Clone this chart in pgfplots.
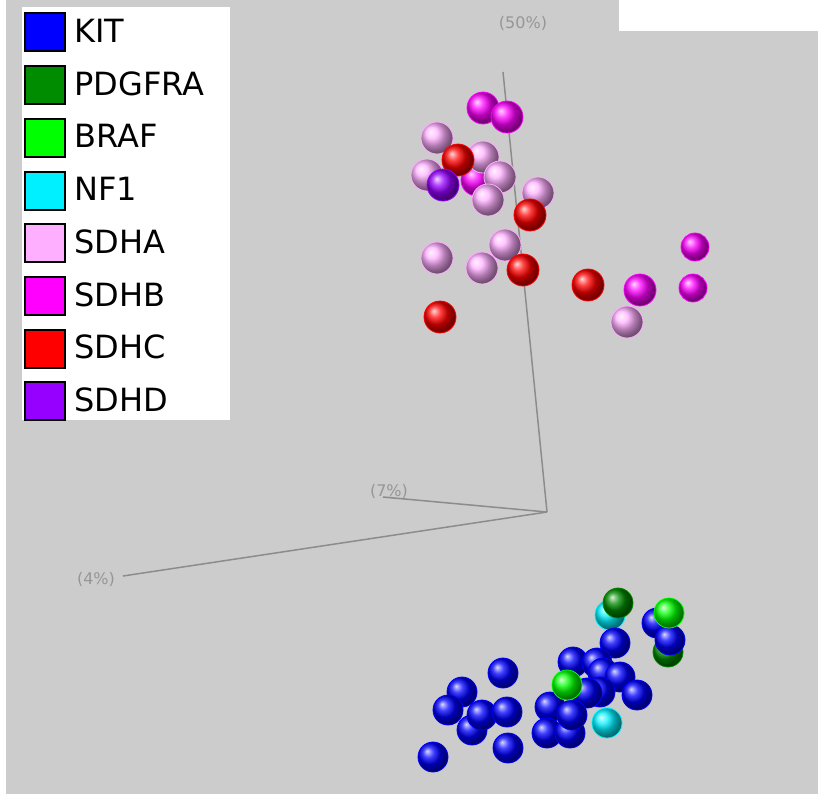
\documentclass[border=0pt]{standalone}
\usepackage{pgfplots}
\pgfplotsset{compat=1.18}
\usepackage{fontspec}
\setmainfont{DejaVu Sans}
\definecolor{bg}{RGB}{204,204,204}
\definecolor{axc}{RGB}{140,140,140}
\definecolor{labc}{RGB}{150,150,150}
\definecolor{kitc}{RGB}{0,0,255}
\definecolor{pdgc}{RGB}{0,140,0}
\definecolor{brafc}{RGB}{0,255,0}
\definecolor{nfc}{RGB}{0,240,255}
\definecolor{sdhac}{RGB}{255,175,255}
\definecolor{sdhbc}{RGB}{255,0,255}
\definecolor{sdhcc}{RGB}{255,0,0}
\definecolor{sdhdc}{RGB}{150,0,255}
\pgfplotsset{
  bl/.style={only marks, mark=ball, color=#1, mark options={ball color=#1},
    legend image code/.code={\path[draw=none,fill=none] (0pt,-1pt) rectangle (22.5pt,1pt);\draw[line width=1pt, draw=black, fill=#1] (0pt,-9.5pt) rectangle (20pt,9.5pt);}},
}
\begin{document}
\begin{tikzpicture}
\begin{axis}[
  x=0.5pt, y=0.5pt, y dir=reverse,
  xmin=0, xmax=818, ymin=0, ymax=794,
  scale only axis, axis line style={draw=none}, ticks=none,
  axis background/.style={fill=bg},
  clip=false,
  legend style={draw=none, fill=none, at={(axis cs:24,12)}, anchor=north west,
    inner sep=0pt, row sep=6.35pt, font=\fontsize{16}{17}\selectfont},
  legend cell align=left,
]
\fill[white] (axis cs:0,0) rectangle (axis cs:6,794);
\fill[white] (axis cs:619,0) rectangle (axis cs:818,31);
\fill[white] (axis cs:22,7) rectangle (axis cs:230,420);
% PCA axes
\addplot[axc, line width=0.75pt, forget plot] coordinates {(503,72) (547,512)};
\addplot[axc, line width=0.75pt, forget plot] coordinates {(383,497) (547,512)};
\addplot[axc, line width=0.75pt, forget plot] coordinates {(123,576) (547,512)};
\node[labc, font=\fontsize{8}{9}\selectfont] at (axis cs:523,23) {(50\%)};
\node[labc, font=\fontsize{8}{9}\selectfont] at (axis cs:389,491) {(7\%)};
\node[labc, font=\fontsize{8}{9}\selectfont] at (axis cs:96,579) {(4\%)};
% bottom cluster, back balls
\addplot[bl=pdgc, mark size=7.5pt, forget plot] coordinates {(668,652)};
\addplot[bl=nfc, mark size=7.5pt, forget plot] coordinates {(610,615)};
% KIT
\addplot[bl=kitc, mark size=7.5pt] coordinates {
(433,757) (462,692) (448,710) (472,730) (482,715) (503,673) (507,712) (508,748)
(657,623) (615,643) (573,662) (597,663) (603,673) (620,677) (637,695) (600,692)
(587,693) (550,707) (547,733) (570,733) (572,715) (670,640)
};
\addlegendentry{KIT}
\addplot[bl=pdgc, mark size=7.5pt] coordinates {(618,603)};
\addlegendentry{PDGFRA}
\addplot[bl=brafc, mark size=7.5pt] coordinates {(669,613) (567,685)};
\addlegendentry{BRAF}
\addplot[bl=nfc, mark size=7.5pt] coordinates {(607,723)};
\addlegendentry{NF1}
% top cluster
\addplot[bl=sdhbc, mark size=8pt, forget plot] coordinates {(477,180)};
\addplot[bl=sdhac, mark size=8pt] coordinates {
(437,138) (483,157) (427,175) (500,177) (488,200) (538,193) (437,258) (482,268) (505,245) (627,322)
};
\addlegendentry{SDHA}
\addplot[bl=sdhbc, mark size=8pt] coordinates {(483,108) (507,117) (640,290)};
\addlegendentry{SDHB}
\addplot[bl=sdhbc, mark size=7pt, forget plot] coordinates {(695,247) (693,288)};
\addplot[bl=sdhcc, mark size=8pt] coordinates {(458,160) (530,215) (523,270) (588,285) (440,317)};
\addlegendentry{SDHC}
\addplot[bl=sdhdc, mark size=8pt] coordinates {(443,185)};
\addlegendentry{SDHD}
\end{axis}
\end{tikzpicture}
\end{document}
